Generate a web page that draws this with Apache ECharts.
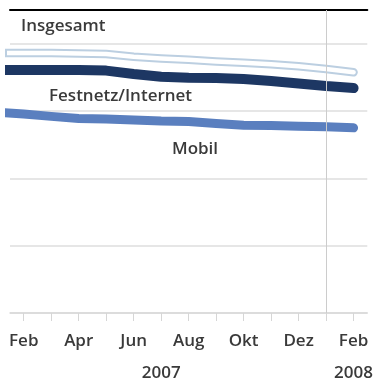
<!DOCTYPE html>
<html>
<head>
<meta charset="utf-8">
<script src="https://cdn.jsdelivr.net/npm/echarts@6/dist/echarts.min.js"></script>
<style>
html,body{margin:0;padding:0;background:#fff;}
#chart{width:376px;height:389px;}
</style>
</head>
<body>
<div id="chart"></div>
<script>
// Month index: 0 = Jan 2007 ... 13 = Feb 2008
const monthNames = ['Jan','Feb','Mär','Apr','Mai','Jun','Jul','Aug','Sep','Okt','Nov','Dez','Jan','Feb'];
const months = [0,1,2,3,4,5,6,7,8,9,10,11,12,13];
const monthTicks = [1,2,3,4,5,6,7,8,9,10,11,12,13];
const monthLabelTicks = [1,3,5,7,9,11,13];
const yearTicks = [6,13];
const yearLabels = {6:'2007',13:'2008'};
const insgesamt = [77.2,77.2,77.2,77.1,76.9,76.1,75.6,75.2,74.7,74.3,73.9,73.3,72.5,71.5];
const festnetz  = [72.2,72.2,72.2,72.2,72.0,71.0,70.2,69.9,69.8,69.5,68.9,68.2,67.4,66.8];
const mobil     = [59.7,59.1,58.4,57.8,57.6,57.3,57.0,56.9,56.3,55.8,55.7,55.5,55.3,55.0];
const yearSeparator = 12;

const pairs = arr => months.map((m,i)=>[m,arr[i]]);
const FONT = '"Open Sans", sans-serif';
const TXT = '#3a3a3a';

const chart = echarts.init(document.getElementById('chart'));
chart.setOption({
  animation:false,
  backgroundColor:'#fff',
  grid:{left:10,right:6,top:10,bottom:76},
  xAxis:[
    {type:'value',min:0.5,max:13.5,position:'bottom',
     axisLine:{show:true,lineStyle:{color:'#d9d9d9',width:1.5}},
     axisTick:{show:true,customValues:monthTicks,length:8,inside:false,lineStyle:{color:'#d6d6d6'}},
     axisLabel:{customValues:monthLabelTicks,margin:20,fontSize:17,fontWeight:600,color:TXT,fontFamily:FONT,
       formatter:v=>monthNames[Math.round(v)]},
     splitLine:{show:false}},
    {type:'value',min:0.5,max:13.5,position:'bottom',offset:35,
     axisLine:{show:false},axisTick:{show:false},
     axisLabel:{customValues:yearTicks,margin:17,fontSize:17,fontWeight:600,color:TXT,fontFamily:FONT,
       formatter:v=>yearLabels[Math.round(v)]||''},
     splitLine:{show:false}},
    {type:'value',min:0.5,max:13.5,position:'top',
     axisLine:{show:true,lineStyle:{color:'#000',width:2}},
     axisTick:{show:false},axisLabel:{show:false},splitLine:{show:false}}
  ],
  yAxis:{type:'value',min:0,max:90,interval:20,
    axisLine:{show:false},axisTick:{show:false},axisLabel:{show:false},
    splitLine:{show:true,lineStyle:{color:'#dedede',width:1.5}}},
  graphic:[
    {type:'text',left:21,top:18,style:{text:'Insgesamt',fontSize:17,fontWeight:600,fill:TXT,fontFamily:FONT}},
    {type:'text',left:49,top:88,style:{text:'Festnetz/Internet',fontSize:17,fontWeight:600,fill:TXT,fontFamily:FONT}},
    {type:'text',left:172,top:141,style:{text:'Mobil',fontSize:17,fontWeight:600,fill:TXT,fontFamily:FONT}}
  ],
  series:[
    {type:'line',name:'Mobil',data:pairs(mobil),showSymbol:false,symbol:'none',
     lineStyle:{color:'#5a7fbf',width:9,cap:'round',join:'round'},
     markLine:{silent:true,symbol:'none',label:{show:false},
       lineStyle:{color:'#cccccc',width:1,type:'solid'},data:[{xAxis:yearSeparator}]}},
    {type:'line',name:'Festnetz/Internet',data:pairs(festnetz),showSymbol:false,symbol:'none',
     lineStyle:{color:'#1d3763',width:10,cap:'round',join:'round'}},
    {type:'line',name:'Insgesamt',data:pairs(insgesamt),showSymbol:false,symbol:'none',
     lineStyle:{color:'#bccfe1',width:8.5,cap:'round',join:'round'}},
    {type:'line',name:'Insgesamt_inner',data:pairs(insgesamt),showSymbol:false,symbol:'none',
     lineStyle:{color:'#ffffff',width:4.5,cap:'round',join:'round'}}
  ]
});
</script>
</body>
</html>
